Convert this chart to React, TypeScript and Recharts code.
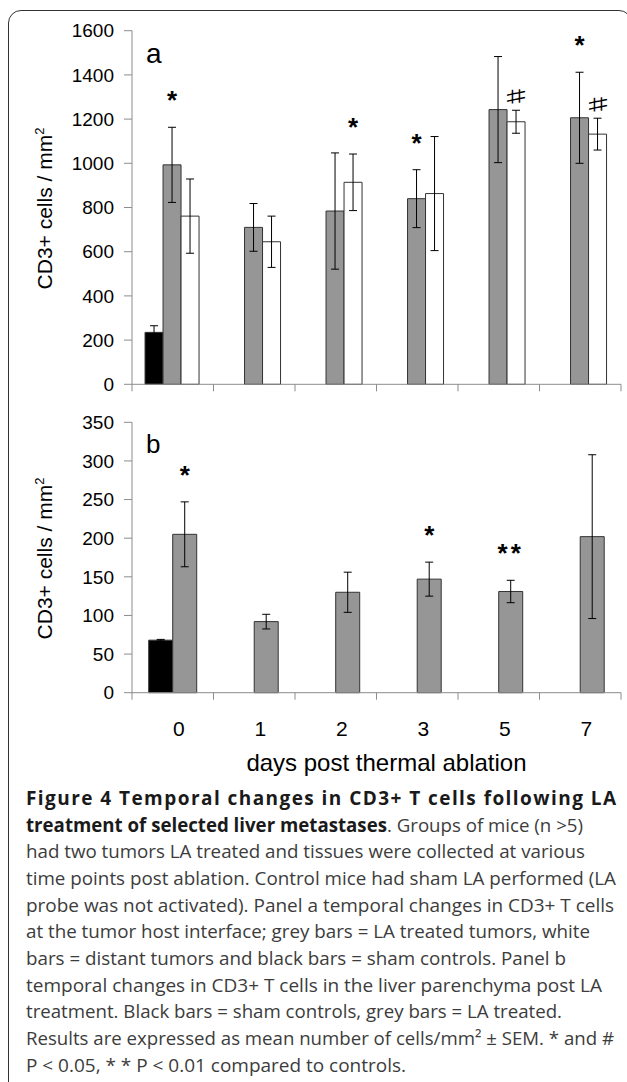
import React from "react";
import { BarChart, Bar, XAxis, YAxis, ErrorBar, LabelList } from "recharts";

const FONT = '"Liberation Sans", Arial, sans-serif';
const CAPTION_FONT = '"Open Sans", "Noto Sans", sans-serif';
const AXIS = "#8c8c8c";
const EDGE = "#333333";

const days = ["0", "1", "2", "3", "5", "7"];

// panel a: tumour / host interface
const aSham = [235, null, null, null, null, null];
const aShamSem = [30, null, null, null, null, null];
const aTreated = [993, 710, 784, 840, 1243, 1206];
const aTreatedSem = [170, 108, 263, 131, 240, 206];
const aDistant = [761, 645, 914, 863, 1188, 1132];
const aDistantSem = [168, 116, 128, 258, 52, 72];
const aTreatedSig = ["*", "", "", "*", "", "*"];
const aDistantSig = ["", "", "*", "", "#", "#"];
const aTicks = [0, 200, 400, 600, 800, 1000, 1200, 1400, 1600];

// panel b: liver parenchyma
const bSham = [68, null, null, null, null, null];
const bShamSem = [1, null, null, null, null, null];
const bTreated = [205, 92, 130, 147, 131, 202];
const bTreatedSem = [42, 9.5, 26, 22, 14.5, 106];
const bTreatedSig = ["*", "", "", "*", "**", ""];
const bTicks = [0, 50, 100, 150, 200, 250, 300, 350];

const W = 627;
const LEFT = 132;
const RIGHT = 6;
const BAND = (W - LEFT - RIGHT) / days.length;

const aData = days.map((day, i) => ({
  day,
  sham: aSham[i],
  shamErr: aShamSem[i],
  treated: aTreated[i],
  treatedErr: aTreatedSem[i],
  distant: aDistant[i],
  distantErr: aDistantSem[i],
}));

const bData = days.map((day, i) => ({
  day,
  sham: bSham[i],
  shamErr: bShamSem[i],
  treated: bTreated[i],
  treatedErr: bTreatedSem[i],
}));

// Excel-style ticks between the categories
function DayTick(props: any) {
  const { x, y, payload, index, showLabel } = props;
  const half = BAND / 2;
  return (
    <g>
      <line x1={x - half} x2={x - half} y1={y} y2={y + 7} stroke={AXIS} />
      {index === days.length - 1 && (
        <line x1={x + half} x2={x + half} y1={y} y2={y + 7} stroke={AXIS} />
      )}
      {showLabel && (
        <text x={x + 6} y={y + 43} textAnchor="middle" fontSize={21} fontFamily={FONT} fill="#000">
          {payload.value}
        </text>
      )}
    </g>
  );
}

function YTitle({ viewBox }: any) {
  const x = viewBox.x + 52;
  const y = viewBox.y + viewBox.height / 2 + 1;
  return (
    <text x={x} y={y} transform={`rotate(-90 ${x} ${y})`} textAnchor="middle" fontSize={21} fontFamily={FONT} fill="#000">
      CD3+ cells / mm<tspan dy={-8} fontSize={13}>2</tspan>
    </text>
  );
}

function XTitle({ viewBox }: any) {
  return (
    <text x={viewBox.x + viewBox.width / 2 + 10} y={viewBox.y + 78} textAnchor="middle" fontSize={24} fontFamily={FONT} fill="#000">
      days post thermal ablation
    </text>
  );
}

// significance marks sit above the top of each error bar
function sigLabel(marks: string[], values: (number | null)[], sems: (number | null)[]) {
  return (props: any) => {
    const i = props.index;
    const mark = marks[i];
    const v = values[i];
    const e = sems[i];
    if (!mark || v == null || e == null) return null;
    const box = props.viewBox ?? props;
    const cx = box.x + box.width / 2;
    const errTop = box.y - (e * box.height) / v;
    if (mark === "#") {
      const cy = errTop - 14;
      return (
        <text
          x={cx}
          y={cy}
          transform={`matrix(0,-1,-1,0,${cx + cy},${cx + cy})`}
          textAnchor="middle"
          dominantBaseline="central"
          fontSize={26}
          fontFamily={FONT}
          fill="#000"
        >
          #
        </text>
      );
    }
    return (
      <text x={cx} y={errTop - 18} textAnchor="middle" fontSize={26} fontWeight="bold" fontFamily={FONT} fill="#000" letterSpacing={mark.length > 1 ? 3 : 0}>
        {mark}
      </text>
    );
  };
}

const yTick = { fill: "#000", fontSize: 19, fontFamily: FONT };

function PanelA() {
  return (
    <BarChart
      width={W}
      height={400}
      data={aData}
      margin={{ top: 30.7, right: RIGHT, bottom: 0, left: 0 }}
      barCategoryGap="16%"
      barGap={0}
    >
      <XAxis
        dataKey="day"
        height={15.7}
        interval={0}
        tickSize={0}
        tickMargin={0}
        tickLine={false}
        axisLine={{ stroke: AXIS }}
        tick={<DayTick showLabel={false} />}
      />
      <YAxis
        width={LEFT}
        domain={[0, 1600]}
        ticks={aTicks}
        interval={0}
        tickSize={8}
        tickMargin={10}
        axisLine={{ stroke: AXIS }}
        tickLine={{ stroke: AXIS }}
        tick={yTick}
        label={<YTitle />}
      />
      <Bar dataKey="sham" fill="#000" stroke={EDGE} strokeWidth={1} isAnimationActive={false}>
        <ErrorBar dataKey="shamErr" width={4} stroke="#000" strokeWidth={1} />
      </Bar>
      <Bar dataKey="treated" fill="#969696" stroke={EDGE} strokeWidth={1} isAnimationActive={false}>
        <ErrorBar dataKey="treatedErr" width={4} stroke="#000" strokeWidth={1} />
        <LabelList dataKey="treated" content={sigLabel(aTreatedSig, aTreated, aTreatedSem)} />
      </Bar>
      <Bar dataKey="distant" fill="#fff" stroke={EDGE} strokeWidth={1} isAnimationActive={false}>
        <ErrorBar dataKey="distantErr" width={4} stroke="#000" strokeWidth={1} />
        <LabelList dataKey="distant" content={sigLabel(aDistantSig, aDistant, aDistantSem)} />
      </Bar>
    </BarChart>
  );
}

function PanelB() {
  return (
    <BarChart
      width={W}
      height={383}
      data={bData}
      margin={{ top: 22.3, right: RIGHT, bottom: 0, left: 0 }}
      barCategoryGap="20.5%"
      barGap={0}
    >
      <XAxis
        dataKey="day"
        height={90.3}
        interval={0}
        tickSize={0}
        tickMargin={0}
        tickLine={false}
        axisLine={{ stroke: AXIS }}
        tick={<DayTick showLabel />}
        label={<XTitle />}
      />
      <YAxis
        width={LEFT}
        domain={[0, 350]}
        ticks={bTicks}
        interval={0}
        tickSize={8}
        tickMargin={10}
        axisLine={{ stroke: AXIS }}
        tickLine={{ stroke: AXIS }}
        tick={yTick}
        label={<YTitle />}
      />
      <Bar dataKey="sham" fill="#000" stroke={EDGE} strokeWidth={1} isAnimationActive={false}>
        <ErrorBar dataKey="shamErr" width={4} stroke="#000" strokeWidth={1} />
      </Bar>
      <Bar dataKey="treated" fill="#969696" stroke={EDGE} strokeWidth={1} isAnimationActive={false}>
        <ErrorBar dataKey="treatedErr" width={4} stroke="#000" strokeWidth={1} />
        <LabelList dataKey="treated" content={sigLabel(bTreatedSig, bTreated, bTreatedSem)} />
      </Bar>
    </BarChart>
  );
}

const BOLD = "#1a1a1a";
const BODY = "#3c3c3c";

function Caption() {
  const lines: { len: number; body: React.ReactNode }[] = [
    { len: 590, body: <tspan fontWeight="bold" fill={BOLD}>Figure 4 Temporal changes in CD3+ T cells following LA</tspan> },
    {
      len: 557,
      body: (
        <>
          <tspan fontWeight="bold" fill={BOLD}>treatment of selected liver metastases</tspan>. Groups of mice (n &gt;5)
        </>
      ),
    },
    { len: 559, body: "had two tumors LA treated and tissues were collected at various" },
    { len: 590, body: "time points post ablation. Control mice had sham LA performed (LA" },
    { len: 588, body: "probe was not activated). Panel a temporal changes in CD3+ T cells" },
    { len: 564, body: "at the tumor host interface; grey bars = LA treated tumors, white" },
    { len: 540, body: "bars = distant tumors and black bars = sham controls. Panel b" },
    { len: 576, body: "temporal changes in CD3+ T cells in the liver parenchyma post LA" },
    { len: 536, body: "treatment. Black bars = sham controls, grey bars = LA treated." },
    { len: 588, body: "Results are expressed as mean number of cells/mm² ± SEM. * and #" },
    { len: 380, body: "P < 0.05, * * P < 0.01 compared to controls." },
  ];
  return (
    <>
      {lines.map((l, i) => (
        <text
          key={i}
          x={26}
          y={805 + i * 26.66}
          fontSize={19}
          fontFamily={CAPTION_FONT}
          fill={BODY}
          textLength={l.len}
          lengthAdjust={i === 0 ? "spacing" : "spacingAndGlyphs"}
        >
          {l.body}
        </text>
      ))}
    </>
  );
}

export default function App() {
  return (
    <div style={{ position: "fixed", left: 0, top: 0, width: W, height: 1082, overflow: "hidden", background: "#fff" }}>
      <div
        style={{
          position: "absolute",
          left: 8,
          top: 9.5,
          width: 624,
          height: 1100,
          border: "1.5px solid #333",
          borderRadius: 13,
          boxSizing: "border-box",
        }}
      />
      <div style={{ position: "absolute", left: 0, top: 0 }}>
        <PanelA />
      </div>
      <div style={{ position: "absolute", left: 0, top: 400 }}>
        <PanelB />
      </div>
      <svg width={W} height={1082} style={{ position: "absolute", left: 0, top: 0, pointerEvents: "none" }}>
        <text x={146} y={63} fontSize={28} fontFamily={FONT} fill="#000">a</text>
        <text x={146} y={453} fontSize={26} fontFamily={FONT} fill="#000">b</text>
        <Caption />
      </svg>
    </div>
  );
}
